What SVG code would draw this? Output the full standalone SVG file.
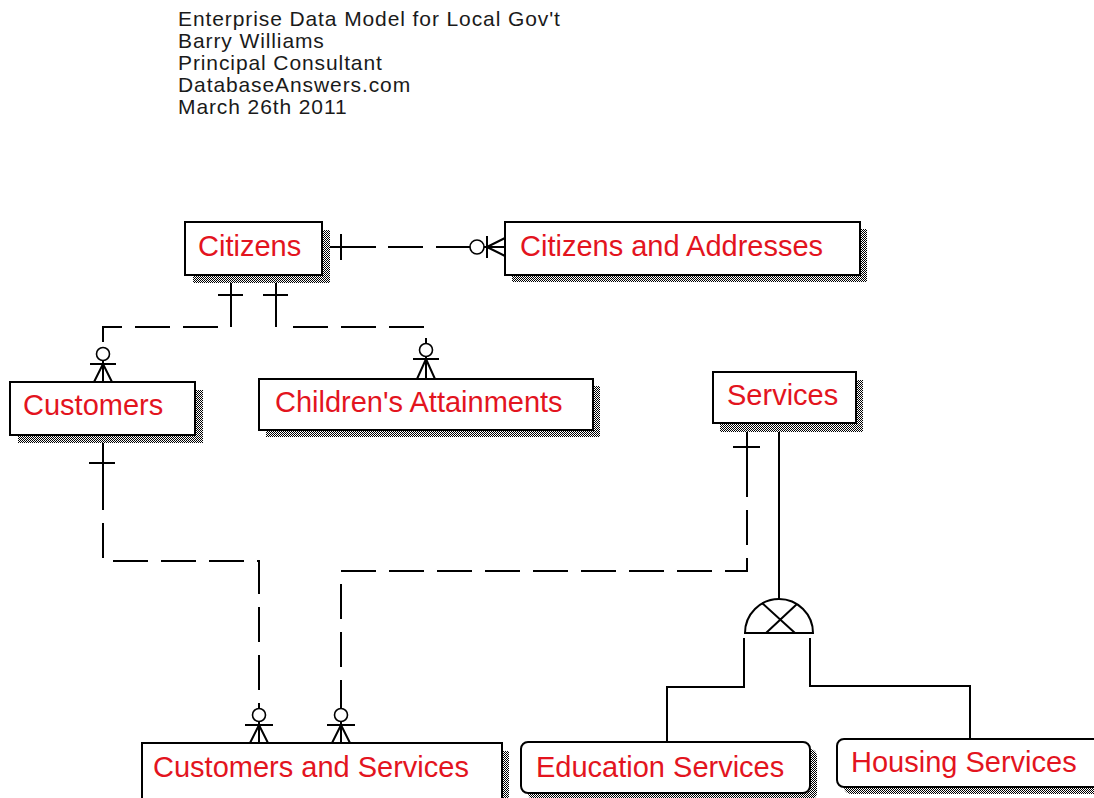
<svg xmlns="http://www.w3.org/2000/svg" width="1094" height="798" viewBox="0 0 1094 798">
<style>
.hdr{font-family:"Liberation Sans",Arial,sans-serif;font-size:21px;letter-spacing:0.9px;fill:#1a1a1a}
.lbl{font-family:"Liberation Sans",Arial,sans-serif;font-size:29px;fill:#e3141e}
.box{fill:#fff;stroke:#000;stroke-width:2}
.shd{fill:url(#dots)}
.ln{fill:none;stroke:#000;stroke-width:2}
.dash{fill:none;stroke:#000;stroke-width:2;stroke-dasharray:35 13}
.circ{fill:#fff;stroke:#000;stroke-width:1.6}
</style>
<defs>
<pattern id="dots" width="2" height="2" patternUnits="userSpaceOnUse">
<rect width="2" height="2" fill="#fff"/>
<rect width="1" height="1" fill="#000"/>
<rect x="1" y="1" width="1" height="1" fill="#000"/>
</pattern>
</defs>
<rect width="1094" height="798" fill="#fff"/>
<g id="header">
<text class="hdr" x="178" y="26">Enterprise Data Model for Local Gov't</text>
<text class="hdr" x="178" y="48">Barry Williams</text>
<text class="hdr" x="178" y="70">Principal Consultant</text>
<text class="hdr" x="178" y="92">DatabaseAnswers.com</text>
<text class="hdr" x="178" y="114">March 26th 2011</text>
</g>
<g id="connectors">
<path class="ln" d="M322,247 H376 M341,234 V260"/>
<path class="dash" d="M388,247 H470"/>
<circle class="circ" cx="477" cy="247" r="7"/>
<path class="ln" d="M484,247 H505 M487,236 V258 M487,247 L505,238 M487,247 L505,256"/>
<path class="ln" d="M231,275 V327 M218,295 H243"/>
<path class="dash" d="M218,327 H103 V342"/>
<circle class="circ" cx="103" cy="354" r="6.5"/>
<path class="ln" d="M90,364 H116 M103,360 V382 M103,364 L94,382 M103,364 L112,382"/>
<path class="ln" d="M276,275 V327 M263,295 H288"/>
<path class="dash" d="M293,327 H426 V343"/>
<circle class="circ" cx="426" cy="350" r="6.5"/>
<path class="ln" d="M413,359 H439 M426,356 V379 M426,359 L417,379 M426,359 L435,379"/>
<path class="ln" d="M103,435 V510 M89,463 H115"/>
<path class="dash" d="M103,523 V561 H259 V708"/>
<circle class="circ" cx="259" cy="715" r="6.5"/>
<path class="ln" d="M245,725 H273 M259,721 V743 M259,725 L250,743 M259,725 L268,743"/>
<path class="ln" d="M747,423 V497 M733,447 H760"/>
<path class="dash" d="M747,510 V571 H341 V708"/>
<circle class="circ" cx="341" cy="715" r="6.5"/>
<path class="ln" d="M327,725 H355 M341,721 V743 M341,725 L332,743 M341,725 L350,743"/>
<path class="ln" d="M779,423 V599"/>
<path class="ln" d="M745,633 A34,34 0 0 1 813,633 Z"/>
<path class="ln" stroke-width="1.6" d="M762,603 L795,633 M797,604 L766,633"/>
<path class="ln" d="M744,638 V687 H667 V742"/>
<path class="ln" d="M810,638 V686 H970 V739"/>
</g>
<g id="citizens">
<rect class="shd" x="193" y="230" width="137" height="53"/>
<rect class="box" x="185" y="222" width="137" height="53"/>
<text class="lbl" x="198" y="256">Citizens</text>
</g>
<g id="citizens-and-addresses">
<rect class="shd" x="512" y="229" width="355" height="53"/>
<rect class="box" x="505" y="222" width="355" height="53"/>
<text class="lbl" x="520" y="256">Citizens and Addresses</text>
</g>
<g id="customers">
<rect class="shd" x="18" y="390" width="185" height="53"/>
<rect class="box" x="10" y="382" width="185" height="53"/>
<text class="lbl" x="23" y="415">Customers</text>
</g>
<g id="childrens-attainments">
<rect class="shd" x="266" y="386" width="334" height="51"/>
<rect class="box" x="259" y="379" width="334" height="51"/>
<text class="lbl" x="275" y="412">Children's Attainments</text>
</g>
<g id="services">
<rect class="shd" x="720" y="380" width="143" height="52"/>
<rect class="box" x="713" y="372" width="143" height="51"/>
<text class="lbl" x="727" y="405">Services</text>
</g>
<g id="customers-and-services">
<rect class="shd" x="149" y="751" width="360" height="60"/>
<rect class="box" x="142" y="743" width="360" height="60"/>
<text class="lbl" x="153" y="777">Customers and Services</text>
</g>
<g id="education-services">
<rect class="shd" x="528" y="749" width="289" height="51" rx="7"/>
<rect class="box" x="521" y="742" width="289" height="51" rx="7"/>
<text class="lbl" x="536" y="777">Education Services</text>
</g>
<g id="housing-services">
<rect class="shd" x="844" y="746" width="270" height="48" rx="7"/>
<rect class="box" x="837" y="739" width="270" height="48" rx="7"/>
<text class="lbl" x="851" y="772">Housing Services</text>
</g>
</svg>
